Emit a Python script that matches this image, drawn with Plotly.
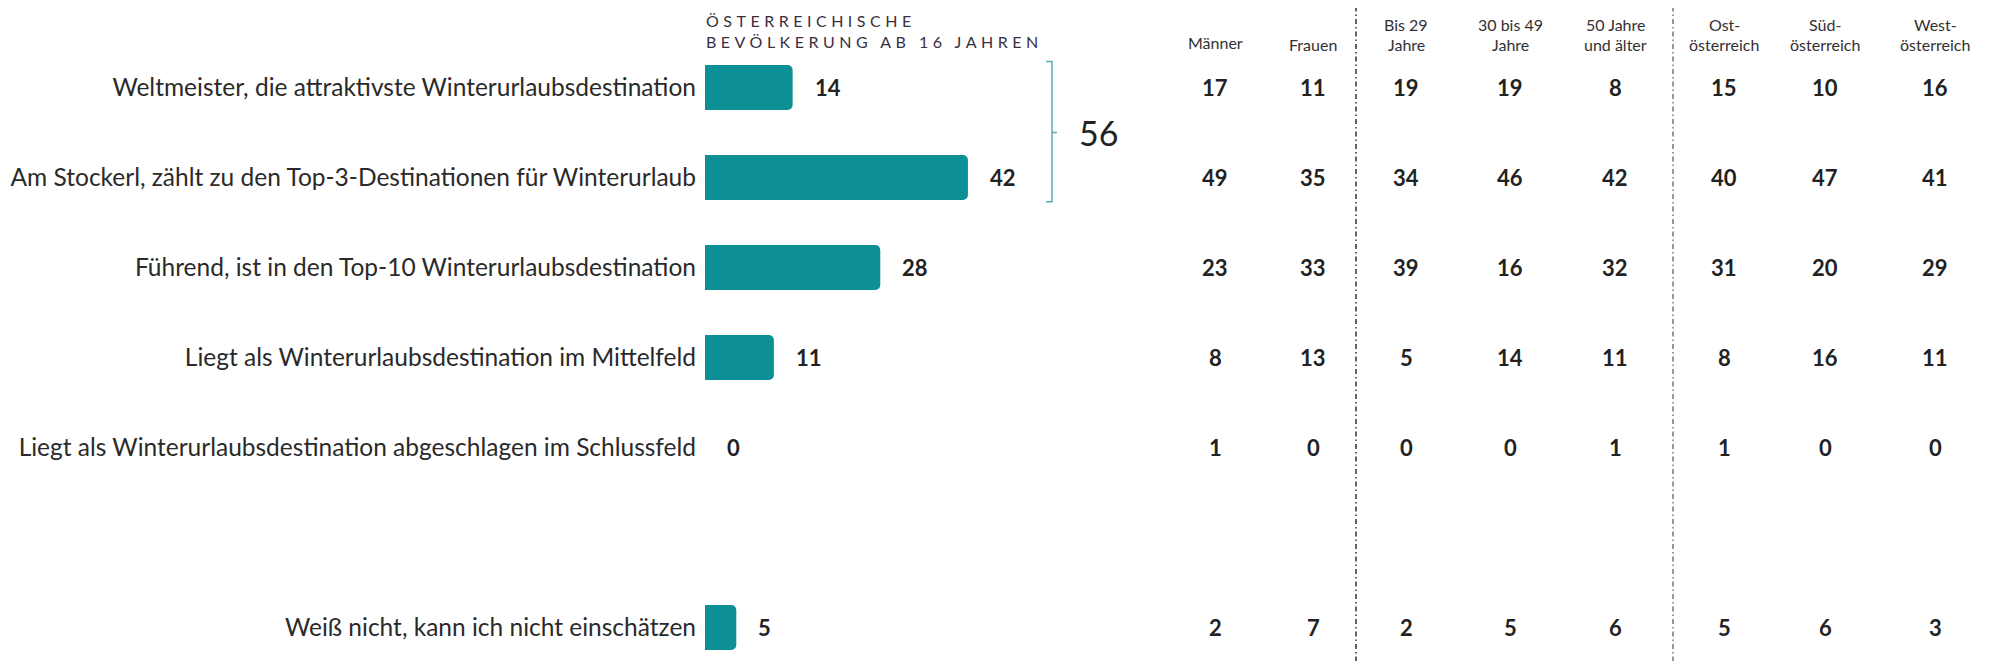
import plotly.graph_objects as go

# ---------------- data ----------------
categories = [
    "Weltmeister, die attraktivste Winterurlaubsdestination",
    "Am Stockerl, zählt zu den Top-3-Destinationen für Winterurlaub",
    "Führend, ist in den Top-10 Winterurlaubsdestination",
    "Liegt als Winterurlaubsdestination im Mittelfeld",
    "Liegt als Winterurlaubsdestination abgeschlagen im Schlussfeld",
    "Weiß nicht, kann ich nicht einschätzen",
]
total = [14, 42, 28, 11, 0, 5]

header_title = ["ÖSTERREICHISCHE", "BEVÖLKERUNG AB 16 JAHREN"]

column_labels = [
    ["Männer"],
    ["Frauen"],
    ["Bis 29", "Jahre"],
    ["30 bis 49", "Jahre"],
    ["50 Jahre", "und älter"],
    ["Ost-", "österreich"],
    ["Süd-", "österreich"],
    ["West-", "österreich"],
]
maenner = [17, 49, 23, 8, 1, 2]
frauen = [11, 35, 33, 13, 0, 7]
bis29 = [19, 34, 39, 5, 0, 2]
j30bis49 = [19, 46, 16, 14, 0, 5]
j50plus = [8, 42, 32, 11, 1, 6]
ost = [15, 40, 31, 8, 1, 5]
sued = [10, 47, 20, 16, 0, 6]
west = [16, 41, 29, 11, 0, 3]
columns = [maenner, frauen, bis29, j30bis49, j50plus, ost, sued, west]

# ---------------- layout helpers ----------------
PAGE = 8                      # default page body margin
W, H = 1997 - 2 * PAGE, 669 - 2 * PAGE
L = 697                       # left margin = bar origin (figure px)
PW = W - L
ROW = 90
FIRST = 79.5
PX_PER_UNIT = 6.26

def xp(px):
    return (px - L) / PW

def yp(py):
    return 1 - py / H

# row positions: a blank slot before the last answer
ypos = list(range(len(categories) - 1)) + [len(categories)]

y_top = -FIRST / ROW
y_bot = (H - FIRST) / ROW

teal = "#0d8f96"
dark = "#222222"
text_font = "Lato, 'Open Sans', sans-serif"

fig = go.Figure()
fig.add_trace(go.Bar(
    x=total, y=ypos, orientation="h", width=0.5,
    marker=dict(color=teal, cornerradius=5, line=dict(width=0)),
    hoverinfo="skip", showlegend=False,
))

annotations = []
for v, y in zip(total, ypos):
    annotations.append(dict(
        x=v, y=y, xref="x", yref="y", text=str(v), showarrow=False,
        xanchor="left", yanchor="middle", xshift=20,
        font=dict(family=text_font, size=22, color=dark, weight="bold"),
    ))

for i, line in enumerate(header_title):
    annotations.append(dict(
        x=xp(696), y=yp(13 + 20 * i), xref="paper", yref="paper",
        text=f'<span style="letter-spacing:4.5px">{line}</span>',
        showarrow=False, xanchor="left", yanchor="middle",
        font=dict(family=text_font, size=16, color="#3a3040"),
    ))

col_x = [1207, 1305, 1398, 1502, 1607, 1716, 1817, 1927]

for cx, lab, vals in zip(col_x, column_labels, columns):
    if len(lab) == 1:
        ly = [34 if lab[0] == "Männer" else 37]
    else:
        ly = [16, 37]
    for t, y in zip(lab, ly):
        annotations.append(dict(
            x=xp(cx), y=yp(y), xref="paper", yref="paper", text=t,
            showarrow=False, xanchor="center", yanchor="middle",
            font=dict(family=text_font, size=16, color="#333033"),
        ))
    for v, y in zip(vals, ypos):
        annotations.append(dict(
            x=xp(cx), y=y, xref="paper", yref="y", text=str(v),
            showarrow=False, xanchor="center", yanchor="middle",
            font=dict(family=text_font, size=22, color=dark, weight="bold"),
        ))

top2 = total[0] + total[1]
annotations.append(dict(
    x=xp(1090), y=(ypos[0] + ypos[1]) / 2, xref="paper", yref="y",
    text=str(top2), showarrow=False, xanchor="center", yanchor="middle",
    font=dict(family=text_font, size=34, color=dark),
))

shapes = []
bx = xp(1044)
by0 = ypos[0] - 0.29
by1 = ypos[1] + 0.27
bmid = (ypos[0] + ypos[1]) / 2
shapes.append(dict(
    type="path", xref="paper", yref="y",
    path=(f"M {xp(1038)},{by0} L {bx},{by0} L {bx},{by1} L {xp(1038)},{by1} "
          f"M {bx},{bmid} L {xp(1049)},{bmid}"),
    line=dict(color="#5eaab0", width=1.5),
))
for sx, col in [(1348, "#333333"), (1665, "#777777")]:
    shapes.append(dict(
        type="line", xref="paper", yref="paper",
        x0=xp(sx), x1=xp(sx), y0=-0.02, y1=1.02,
        line=dict(color=col, width=1.5, dash="5px,3px,1.5px,3px"),
    ))

fig.update_layout(
    width=W, height=H,
    margin=dict(l=L, r=0, t=0, b=0),
    paper_bgcolor="white", plot_bgcolor="white",
    xaxis=dict(range=[0, PW / PX_PER_UNIT], visible=False, fixedrange=True),
    yaxis=dict(
        range=[y_bot, y_top], tickmode="array", tickvals=ypos, ticktext=categories,
        showgrid=False, zeroline=False, showline=False, ticks="",
        ticklabelstandoff=8,
        tickfont=dict(family=text_font, size=24.5, color="#2a2a2a"),
        fixedrange=True,
    ),
    annotations=annotations,
    shapes=shapes,
    showlegend=False,
)

fig.write_html("out.html")
